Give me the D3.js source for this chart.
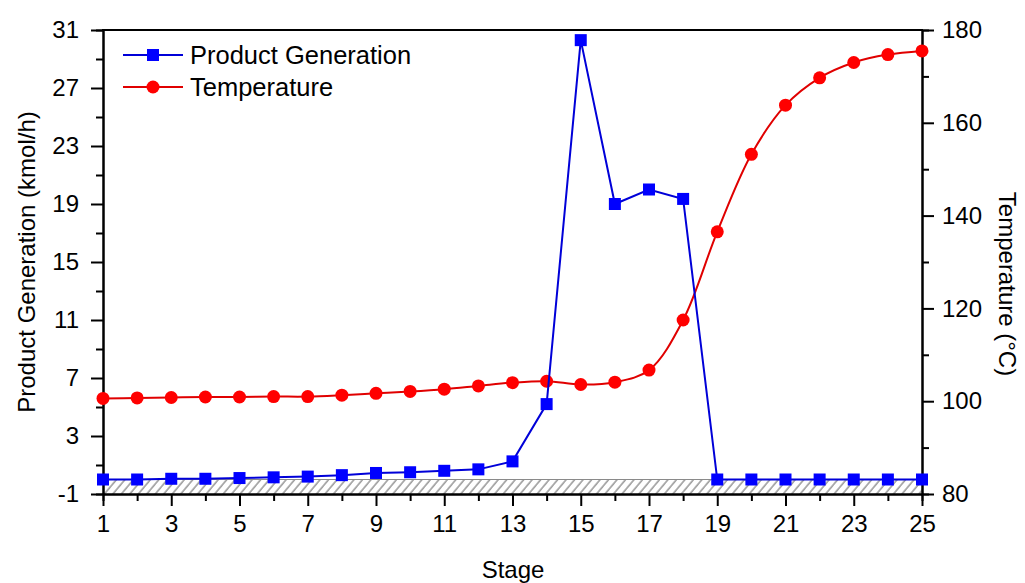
<!DOCTYPE html>
<html>
<head>
<meta charset="utf-8">
<script src="https://cdn.jsdelivr.net/npm/d3@7"></script>
<style>
  body { margin: 0; background: #fff; }
  text { font-family: "Liberation Sans", Arial, sans-serif; fill: #000; }
</style>
</head>
<body>
<div id="chart"></div>
<script>
// data
let stages = d3.range(1, 26);
let productGen = [0.0, 0.0, 0.05, 0.05, 0.1, 0.15, 0.2, 0.3, 0.45, 0.5, 0.6, 0.7, 1.25,
    5.2, 30.3, 19.0, 20.0, 19.35, 0.0, 0.0, 0.0, 0.0, 0.0, 0.0, 0.0];
let temperature = [100.6, 100.7, 100.8, 100.9, 100.9, 101.0, 101.0, 101.3, 101.7, 102.1, 102.6,
    103.3, 104.0, 104.3, 103.6, 104.1, 106.7, 117.5, 136.5, 153.2, 163.8, 169.7, 173.0, 174.7, 175.5];
let xTicks = d3.range(1, 26, 2);
let leftTicks = [-1, 3, 7, 11, 15, 19, 23, 27, 31];
let rightTicks = [80, 100, 120, 140, 160, 180];
let hatchBand = [-1, 0];

let width = 1025,
    height = 583,
    margin = {left: 103, top: 30, right: 103, bottom: 89};

let svg = d3.select('#chart').append('svg')
    .attr('width', width)
    .attr('height', height);

let x = d3.scaleLinear().domain([1, 25]).range([margin.left, width - margin.right]);
let yL = d3.scaleLinear().domain([-1, 31]).range([height - margin.bottom, margin.top]);
let yR = d3.scaleLinear().domain([80, 180]).range([height - margin.bottom, margin.top]);

// hatch pattern
let pat = svg.append('defs').append('pattern')
    .attr('id', 'hatch')
    .attr('patternUnits', 'userSpaceOnUse')
    .attr('width', 6.5).attr('height', 20)
    .attr('patternTransform', 'rotate(40)');
pat.append('line')
    .attr('x1', 1).attr('y1', 0).attr('x2', 1).attr('y2', 20)
    .attr('stroke', '#6e6e6e').attr('stroke-width', 1.1);

svg.append('rect')
    .attr('x', x(1)).attr('width', x(25) - x(1))
    .attr('y', yL(hatchBand[1])).attr('height', yL(hatchBand[0]) - yL(hatchBand[1]))
    .attr('fill', 'url(#hatch)');
svg.append('line')
    .attr('x1', x(1)).attr('x2', x(25))
    .attr('y1', yL(hatchBand[1])).attr('y2', yL(hatchBand[1]))
    .attr('stroke', '#8a8a8a').attr('stroke-width', 1.2);

// axes
let fmt = d => String(d);
function styleAxis(g) {
    g.select('.domain').attr('stroke', '#000').attr('stroke-width', 2);
    g.selectAll('.tick line').attr('stroke', '#000').attr('stroke-width', 2);
    g.selectAll('.tick text').style('font-size', '24px')
        .style('font-family', '"Liberation Sans", Arial, sans-serif');
}

let minorX = d3.range(2, 25, 2);
svg.append('g')
    .attr('transform', `translate(0, ${yL(-1)})`)
    .call(d3.axisBottom(x).tickValues(minorX).tickSize(7).tickFormat(''))
    .call(styleAxis);
svg.append('g')
    .attr('transform', `translate(0, ${yL(-1)})`)
    .call(d3.axisBottom(x).tickValues(xTicks).tickSize(12).tickSizeOuter(0).tickPadding(9).tickFormat(fmt))
    .call(styleAxis);

let minorL = leftTicks.slice(0, -1).map(d => d + 2);
svg.append('g')
    .attr('transform', `translate(${x(1)}, 0)`)
    .call(d3.axisLeft(yL).tickValues(minorL).tickSize(7).tickFormat(''))
    .call(styleAxis);
svg.append('g')
    .attr('transform', `translate(${x(1)}, 0)`)
    .call(d3.axisLeft(yL).tickValues(leftTicks).tickSize(12).tickSizeOuter(0).tickPadding(12).tickFormat(fmt))
    .call(styleAxis);

let minorR = rightTicks.slice(0, -1).map(d => d + 10);
svg.append('g')
    .attr('transform', `translate(${x(25)}, 0)`)
    .call(d3.axisRight(yR).tickValues(minorR).tickSize(7).tickFormat(''))
    .call(styleAxis);
svg.append('g')
    .attr('transform', `translate(${x(25)}, 0)`)
    .call(d3.axisRight(yR).tickValues(rightTicks).tickSize(12).tickSizeOuter(0).tickPadding(8).tickFormat(fmt))
    .call(styleAxis);

// top frame
svg.append('line')
    .attr('x1', x(1) - 1).attr('x2', x(25) + 1)
    .attr('y1', yL(31)).attr('y2', yL(31))
    .attr('stroke', '#000').attr('stroke-width', 2);

// axis titles
svg.append('text')
    .attr('x', 513).attr('y', 578)
    .attr('text-anchor', 'middle')
    .style('font-size', '24px')
    .text('Stage');
svg.append('text')
    .attr('transform', `translate(35, ${(yL(-1) + yL(31)) / 2}) rotate(-90)`)
    .attr('text-anchor', 'middle')
    .style('font-size', '24px')
    .text('Product Generation (kmol/h)');
svg.append('text')
    .attr('transform', `translate(999, ${(yL(-1) + yL(31)) / 2 + 22}) rotate(90)`)
    .attr('text-anchor', 'middle')
    .style('font-size', '24px')
    .text('Temperature (\u00b0C)');

// temperature series
let tempLine = d3.line()
    .x((d, i) => x(stages[i]))
    .y(d => yR(d))
    .curve(d3.curveCatmullRom.alpha(0.5));
svg.append('path')
    .datum(temperature)
    .attr('d', tempLine)
    .attr('fill', 'none')
    .attr('stroke', '#e00000')
    .attr('stroke-width', 2);
svg.append('g').selectAll('circle')
    .data(temperature)
    .join('circle')
    .attr('cx', (d, i) => x(stages[i]))
    .attr('cy', d => yR(d))
    .attr('r', 6.5)
    .attr('fill', '#ff0000');

// product series
let prodLine = d3.line()
    .x((d, i) => x(stages[i]))
    .y(d => yL(d));
svg.append('path')
    .datum(productGen)
    .attr('d', prodLine)
    .attr('fill', 'none')
    .attr('stroke', '#0000d8')
    .attr('stroke-width', 2);
svg.append('g').selectAll('rect')
    .data(productGen)
    .join('rect')
    .attr('x', (d, i) => x(stages[i]) - 6)
    .attr('y', d => yL(d) - 6)
    .attr('width', 12)
    .attr('height', 12)
    .attr('fill', '#0000ff');

// legend
let legend = svg.append('g');
let legendItems = [
    {name: 'Product Generation', color: '#0000d8', y: 55, shape: 'square'},
    {name: 'Temperature', color: '#e00000', y: 87, shape: 'circle'}
];
legendItems.forEach(function (d) {
    legend.append('line')
        .attr('x1', 123).attr('x2', 183)
        .attr('y1', d.y).attr('y2', d.y)
        .attr('stroke', d.color).attr('stroke-width', 2);
    if (d.shape === 'square') {
        legend.append('rect')
            .attr('x', 147).attr('y', d.y - 6)
            .attr('width', 12).attr('height', 12)
            .attr('fill', '#0000ff');
    } else {
        legend.append('circle')
            .attr('cx', 153).attr('cy', d.y).attr('r', 6.5)
            .attr('fill', '#ff0000');
    }
    legend.append('text')
        .attr('x', 190).attr('y', d.y + 9)
        .style('font-size', '25.5px')
        .text(d.name);
});
</script>
</body>
</html>
